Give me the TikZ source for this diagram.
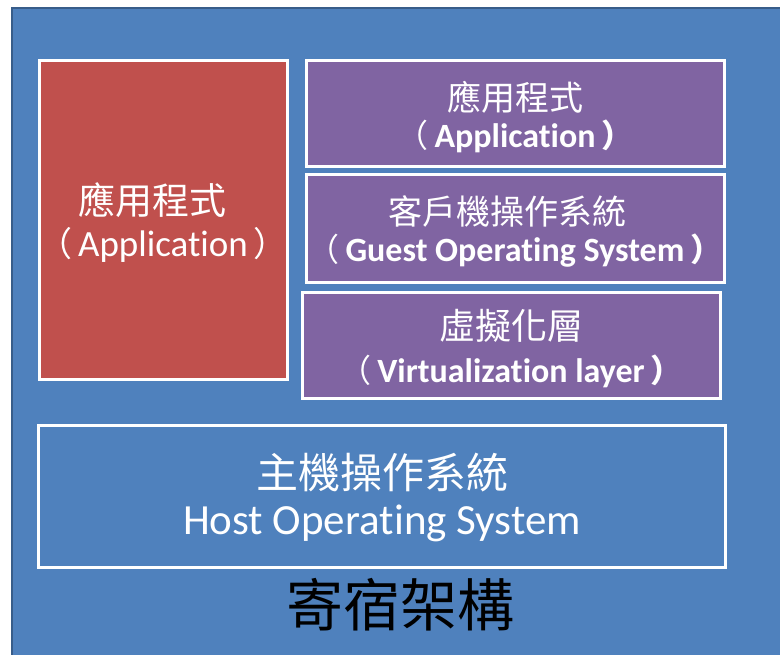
\documentclass[tikz,border=0pt]{standalone}
\usepackage{fontspec}
\setmainfont[Ligatures={NoCommon}]{Carlito}
\newfontfamily\cjk{Noto Sans CJK TC}
\definecolor{bgblue}{HTML}{4F81BD}
\definecolor{edgeblue}{HTML}{385D8A}
\definecolor{appred}{HTML}{C0504D}
\definecolor{vmpurple}{HTML}{8064A2}
\tikzset{
  layerbox/.style={draw=white, line width=3pt, rectangle, inner sep=0pt},
  lbl/.style={text=white, inner sep=0pt, anchor=center},
}
\newcommand{\cjksz}[1]{\fontsize{#1}{#1}\selectfont\cjk}
\newcommand{\latsz}[1]{\fontsize{#1}{#1}\selectfont}
\newcommand{\lp}[1]{{\cjksz{#1}（}\hspace{6pt}}
\newcommand{\rp}[1]{\hspace{6pt}{\cjksz{#1}）}}
\begin{document}
\begin{tikzpicture}[x=1pt,y=-1pt]
\useasboundingbox (0,0) rectangle (780,655);
\fill[white] (0,0) rectangle (780,655);
\fill[bgblue] (11,7) rectangle (780,655);
\draw[edgeblue, line width=2pt] (12,655) -- (12,8) -- (780,8);
% boxes
\node[layerbox, fill=appred, minimum width=248pt, minimum height=319pt] (app) at (163.5,220) {};
\node[layerbox, fill=vmpurple, minimum width=418pt, minimum height=106pt] (gapp) at (515.5,113.5) {};
\node[layerbox, fill=vmpurple, minimum width=418pt, minimum height=108pt] (gos) at (515.5,228.5) {};
\node[layerbox, fill=vmpurple, minimum width=418pt, minimum height=106pt] (virt) at (511.5,345.5) {};
\node[layerbox, fill=bgblue, minimum width=687pt, minimum height=142pt] (host) at (382,496.5) {};
% labels
\node[lbl] (appzh) at (152,200) {\cjksz{37}應用程式};
\node[lbl] (appen) at (163,245) {\lp{34}\latsz{37}Application\rp{34}};
\node[lbl] (gappzh) at (515,97) {\cjksz{34}應用程式};
\node[lbl] (gappen) at (515,136) {\lp{32}\latsz{34}\bfseries Application\rp{32}};
\node[lbl] (goszh) at (507,211) {\cjksz{34}客戶機操作系統};
\node[lbl] (gosen) at (515,251) {\lp{32}\latsz{34}\bfseries Guest Operating System\rp{32}};
\node[lbl] (virtzh) at (511,326) {\cjksz{36}虛擬化層};
\node[lbl] (virten) at (511,371) {\lp{32}\latsz{34}\bfseries Virtualization layer\rp{32}};
\node[lbl] (hostzh) at (382,473) {\cjksz{42}主機操作系統};
\node[lbl] (hosten) at (382,523) {\latsz{43}Host Operating System};
\node[text=black, inner sep=0pt] (title) at (400,605) {\cjksz{57}寄宿架構};
\end{tikzpicture}
\end{document}
